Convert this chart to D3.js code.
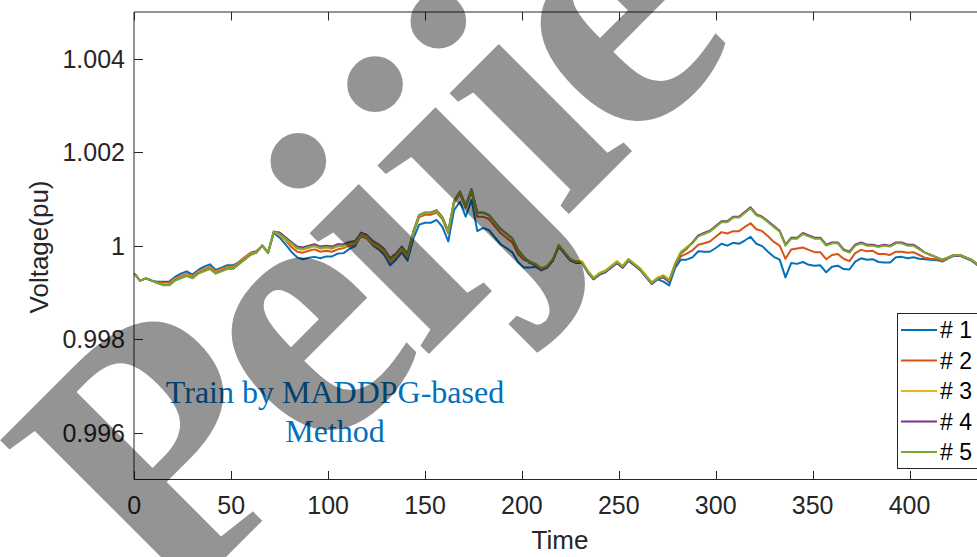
<!DOCTYPE html>
<html>
<head>
  <meta charset="utf-8">
  <title>Voltage (pu) over time</title>
  <script src="https://d3js.org/d3.v7.min.js"></script>
  <style>
    body { margin: 0; background: white; }
    svg { display: block; }
    .tick-label { font-family: 'Liberation Sans', Arial, sans-serif; font-size: 25px; fill: #262626; }
    .axis-title { font-family: 'Liberation Sans', Arial, sans-serif; font-size: 26px; fill: #262626; }
    .legend-text { font-family: 'Liberation Sans', Arial, sans-serif; font-size: 23px; fill: #000; }
    .note { font-family: 'Liberation Serif', 'Times New Roman', serif; font-size: 32px; fill: #0072BD; }
    .mark { font-family: 'Liberation Serif', 'Times New Roman', serif; font-weight: bold; font-size: 370px; letter-spacing: -14px; fill: #000; fill-opacity: 0.42; }
  </style>
</head>
<body>
  <svg id="chart"></svg>

  <script>
    var width = 977;
    var height = 557;

    // time steps (every 3 samples)
    var time = d3.range(0, 436, 3);

    // deviation from 1 pu, in units of 1e-4 pu
    var dev1 = [-6.0,-7.5,-7.0,-7.5,-7.7,-7.7,-7.7,-6.7,-6.0,-5.5,
      -6.2,-5.2,-4.5,-4.0,-5.2,-4.7,-4.2,-4.2,-3.5,-2.5,
      -1.5,-1.2,0.0,-1.5,2.7,1.7,0.3,-1.3,-2.5,-2.9,
      -2.6,-2.4,-2.7,-2.3,-2.3,-1.7,-1.6,-0.7,-0.1,2.3,
      1.7,0.1,-0.8,-2.0,-4.2,-3.0,-1.5,-3.2,1.5,4.5,
      4.9,4.9,5.5,4.0,0.9,7.6,9.4,6.2,9.8,3.1,
      3.8,3.3,1.8,0.3,-0.5,-1.4,-3.5,-4.7,-4.7,-4.5,
      -5.3,-4.7,-3.2,-0.2,-1.7,-3.2,-3.7,-3.7,-5.7,-7.2,
      -6.2,-5.7,-4.7,-3.7,-4.7,-3.2,-4.2,-5.2,-6.7,-8.2,
      -7.2,-7.7,-8.5,-4.8,-3.0,-3.0,-2.5,-1.2,-1.3,-1.3,
      -0.5,0.4,0.0,0.6,0.4,1.1,1.9,0.4,-0.1,-1.3,
      -2.4,-3.0,-6.8,-3.7,-3.9,-3.5,-4.1,-4.3,-4.2,-5.7,
      -4.5,-4.3,-5.0,-5.1,-3.4,-2.7,-3.0,-2.9,-3.5,-3.6,
      -3.6,-2.5,-2.4,-2.7,-2.5,-2.8,-2.9,-3.0,-3.1,-3.4,
      -2.7,-2.2,-2.2,-2.7,-3.2,-4.2];

    var dev2 = [-6.0,-7.5,-7.0,-7.5,-8.0,-8.0,-8.0,-7.0,-6.5,-6.0,
      -6.5,-5.5,-5.0,-4.5,-5.5,-5.0,-4.5,-4.5,-3.5,-2.5,
      -1.6,-1.3,0.0,-1.5,3.0,2.2,1.2,-0.3,-1.3,-1.5,
      -1.1,-0.8,-1.3,-1.1,-1.3,-0.8,-0.5,0.0,0.2,2.0,
      1.5,0.2,-0.5,-1.5,-3.5,-2.5,-1.0,-2.5,2.6,6.1,
      6.6,6.6,7.1,5.6,2.6,9.1,11.1,8.1,11.6,6.2,
      6.2,5.7,4.2,2.7,1.7,0.7,-1.8,-3.0,-3.5,-4.0,
      -5.0,-4.5,-3.0,0.0,-1.5,-3.0,-3.5,-3.5,-5.5,-7.0,
      -6.0,-5.5,-4.5,-3.5,-4.5,-3.0,-4.0,-5.0,-6.5,-8.0,
      -7.0,-6.8,-7.8,-4.3,-2.3,-1.7,-1.0,0.2,0.5,0.9,
      1.9,2.9,2.6,3.1,3.1,4.0,4.8,3.5,3.1,2.0,
      0.8,0.0,-2.8,-0.8,-0.6,-0.4,-0.9,-1.4,-1.4,-2.9,
      -2.0,-1.8,-2.8,-3.3,-1.6,-0.9,-1.2,-1.1,-1.8,-1.8,
      -2.0,-1.3,-1.3,-1.5,-1.4,-2.0,-2.6,-2.8,-2.9,-3.3,
      -2.6,-2.1,-2.1,-2.6,-3.1,-4.1];

    var dev3 = [-6.0,-7.5,-7.0,-7.5,-8.0,-8.2,-8.2,-7.2,-6.7,-6.2,
      -6.7,-5.7,-5.2,-4.7,-5.7,-5.2,-4.7,-4.7,-3.7,-2.7,
      -1.7,-1.5,0.0,-1.5,3.0,2.3,1.3,0.3,-0.7,-0.9,
      -0.5,-0.2,-0.7,-0.5,-0.7,-0.2,-0.2,0.3,0.5,2.3,
      1.8,0.5,-0.2,-1.2,-3.2,-2.2,-0.7,-2.2,3.0,6.5,
      7.0,7.0,7.5,6.0,3.0,9.5,11.5,8.5,12.0,7.0,
      7.0,6.5,5.0,3.5,2.5,1.5,-1.0,-2.5,-3.3,-3.8,
      -4.8,-4.3,-2.8,0.2,-1.3,-2.8,-3.3,-3.3,-5.3,-6.8,
      -5.8,-5.3,-4.3,-3.3,-4.3,-2.8,-3.8,-4.8,-6.3,-7.8,
      -6.8,-6.3,-7.3,-3.8,-1.3,-0.3,0.6,2.1,2.6,3.1,
      4.1,5.1,5.1,6.1,6.2,7.2,8.2,6.7,6.1,5.1,
      4.1,3.1,0.1,1.6,1.6,2.6,2.1,1.6,1.6,0.1,
      0.6,0.6,-0.9,-1.4,0.1,0.6,0.1,0.1,-0.2,0.1,
      -0.1,0.6,0.6,0.1,0.1,-0.7,-1.5,-2.0,-2.5,-3.0,
      -2.5,-2.0,-2.0,-2.5,-3.0,-4.0];

    var dev4 = [-6.0,-7.5,-7.0,-7.5,-8.0,-8.4,-8.4,-7.4,-6.9,-6.4,
      -6.9,-5.9,-5.4,-4.9,-5.9,-5.4,-4.9,-4.9,-3.9,-2.9,
      -1.9,-1.5,0.0,-1.5,3.0,2.8,1.8,0.8,-0.2,-0.4,
      0.0,0.3,-0.2,0.0,-0.2,0.3,0.3,0.8,1.0,2.8,
      2.3,1.0,0.3,-0.7,-2.7,-1.7,-0.2,-1.7,3.1,6.6,
      7.1,7.1,7.6,6.1,3.1,9.6,11.6,8.6,12.1,7.1,
      7.1,6.6,5.1,3.6,2.6,1.6,-0.9,-2.4,-3.7,-4.2,
      -5.2,-4.7,-3.2,-0.2,-1.7,-3.2,-3.7,-3.7,-5.7,-7.2,
      -6.2,-5.7,-4.7,-3.7,-4.7,-3.2,-4.2,-5.2,-6.7,-8.2,
      -7.2,-6.7,-7.7,-4.2,-1.7,-0.7,0.7,2.2,2.7,3.2,
      4.2,5.2,5.2,6.2,6.2,7.2,8.2,6.7,6.2,5.2,
      4.2,3.2,0.2,1.7,1.7,2.7,2.2,1.7,1.7,0.2,
      0.7,0.7,-0.8,-1.3,0.2,0.7,0.2,0.2,-0.1,0.2,
      0.0,0.7,0.7,0.2,0.2,-0.6,-1.5,-2.0,-2.5,-3.0,
      -2.5,-2.0,-2.0,-2.5,-3.0,-4.0];

    var dev5 = [-6.0,-7.5,-7.0,-7.5,-8.0,-8.5,-8.5,-7.5,-7.0,-6.5,
      -7.0,-6.0,-5.5,-5.0,-6.0,-5.5,-5.0,-5.0,-4.0,-3.0,
      -2.0,-1.5,0.0,-1.5,3.0,2.5,1.5,0.5,-0.5,-0.7,
      -0.3,0.0,-0.5,-0.3,-0.5,0.0,0.0,0.5,0.7,2.5,
      2.0,0.7,0.0,-1.0,-3.0,-2.0,-0.5,-2.0,3.0,6.5,
      7.0,7.0,7.5,6.0,3.0,9.5,11.5,8.5,12.0,7.0,
      7.0,6.5,5.0,3.5,2.5,1.5,-1.0,-2.5,-3.5,-4.0,
      -5.0,-4.5,-3.0,0.0,-1.5,-3.0,-3.5,-3.5,-5.5,-7.0,
      -6.0,-5.5,-4.5,-3.5,-4.5,-3.0,-4.0,-5.0,-6.5,-8.0,
      -7.0,-6.5,-7.5,-4.0,-1.5,-0.5,0.5,2.0,2.5,3.0,
      4.0,5.0,5.0,6.0,6.0,7.0,8.0,6.5,6.0,5.0,
      4.0,3.0,0.0,1.5,1.5,2.5,2.0,1.5,1.5,0.0,
      0.5,0.5,-1.0,-1.5,0.0,0.5,0.0,0.0,-0.3,0.0,
      -0.2,0.5,0.5,0.0,0.0,-0.8,-1.5,-2.0,-2.5,-3.0,
      -2.5,-2.0,-2.0,-2.5,-3.0,-4.0];

    var seriesNames = ["# 1", "# 2", "# 3", "# 4", "# 5"];
    var seriesColors = ["#0072BD", "#D95319", "#EDB120", "#7E2F8E", "#77AC30"];
    var seriesDev = [dev1, dev2, dev3, dev4, dev5];

    var xTicks = [0, 50, 100, 150, 200, 250, 300, 350, 400, 450];
    var yTicks = [0.996, 0.998, 1, 1.002, 1.004];
    var yTickLabels = ["0.996", "0.998", "1", "1.002", "1.004"];

    var svg = d3.select("#chart").attr("width", width).attr("height", height);
    svg.append("rect").attr("width", width).attr("height", height).attr("fill", "white");

    var plotLeft = 134.3, plotTop = 12, plotBottom = 479.3;
    var x = d3.scaleLinear().domain([0, 480]).range([plotLeft, plotLeft + 480 * 1.938]);
    var y = d3.scaleLinear().domain([0.995, 1.005]).range([plotBottom, plotTop]);

    // curves
    var line = d3.line()
      .x(function(d) { return x(d.t); })
      .y(function(d) { return y(d.v); });

    var curves = svg.append("g");
    seriesDev.forEach(function(dev, k) {
      var pts = time.map(function(t, i) { return { t: t, v: 1 + dev[i] * 1e-4 }; });
      curves.append("path")
        .datum(pts)
        .attr("d", line)
        .attr("fill", "none")
        .attr("stroke", seriesColors[k])
        .attr("stroke-width", 2)
        .attr("stroke-linejoin", "round");
    });

    // axes (MATLAB-style box, inward ticks)
    var axisColor = "#262626";
    svg.append("line").attr("x1", 134).attr("x2", 134).attr("y1", 12).attr("y2", 479.5)
      .attr("stroke", axisColor).attr("stroke-width", 1);
    svg.append("line").attr("x1", 134).attr("x2", width).attr("y1", 12).attr("y2", 12)
      .attr("stroke", axisColor).attr("stroke-width", 1);
    svg.append("line").attr("x1", 134).attr("x2", width).attr("y1", 479.5).attr("y2", 479.5)
      .attr("stroke", axisColor).attr("stroke-width", 1);

    var xt = svg.append("g");
    xTicks.forEach(function(t) {
      var px = Math.round(x(t)) + 0.5;
      xt.append("line").attr("x1", px).attr("x2", px).attr("y1", 479.5).attr("y2", 471)
        .attr("stroke", axisColor);
      xt.append("line").attr("x1", px).attr("x2", px).attr("y1", 12).attr("y2", 20.5)
        .attr("stroke", axisColor);
      xt.append("text").attr("class", "tick-label")
        .attr("x", x(t)).attr("y", 514)
        .attr("text-anchor", "middle")
        .text(t);
    });

    var yt = svg.append("g");
    yTicks.forEach(function(v, i) {
      var py = Math.round(y(v)) + 0.5;
      yt.append("line").attr("x1", 134).attr("x2", 143).attr("y1", py).attr("y2", py)
        .attr("stroke", axisColor);
      yt.append("text").attr("class", "tick-label")
        .attr("x", 125).attr("y", y(v) + 9)
        .attr("text-anchor", "end")
        .text(yTickLabels[i]);
    });

    svg.append("text").attr("class", "axis-title")
      .attr("x", 560).attr("y", 549).attr("text-anchor", "middle").text("Time");
    svg.append("text").attr("class", "axis-title")
      .attr("transform", "translate(48,247) rotate(-90)")
      .attr("text-anchor", "middle").text("Voltage(pu)");

    // legend
    var legend = svg.append("g");
    legend.append("rect").attr("x", 897.5).attr("y", 313.5).attr("width", 120).attr("height", 155)
      .attr("fill", "white").attr("stroke", axisColor).attr("stroke-width", 1);
    seriesNames.forEach(function(name, k) {
      var ly = 330 + k * 30.5;
      legend.append("line").attr("x1", 901).attr("x2", 937).attr("y1", ly).attr("y2", ly)
        .attr("stroke", seriesColors[k]).attr("stroke-width", 2);
      legend.append("text").attr("class", "legend-text")
        .attr("x", 940).attr("y", ly + 8).text(name);
    });

    // annotation
    var note = svg.append("text").attr("class", "note").attr("text-anchor", "middle");
    note.append("tspan").attr("x", 335).attr("y", 403).text("Train by MADDPG-based");
    note.append("tspan").attr("x", 335).attr("y", 442).text("Method");

    // watermark on top
    svg.append("text").attr("class", "mark")
      .attr("transform", "translate(167,616) rotate(-45)")
      .text("Peijie");
  </script>
</body>
</html>
